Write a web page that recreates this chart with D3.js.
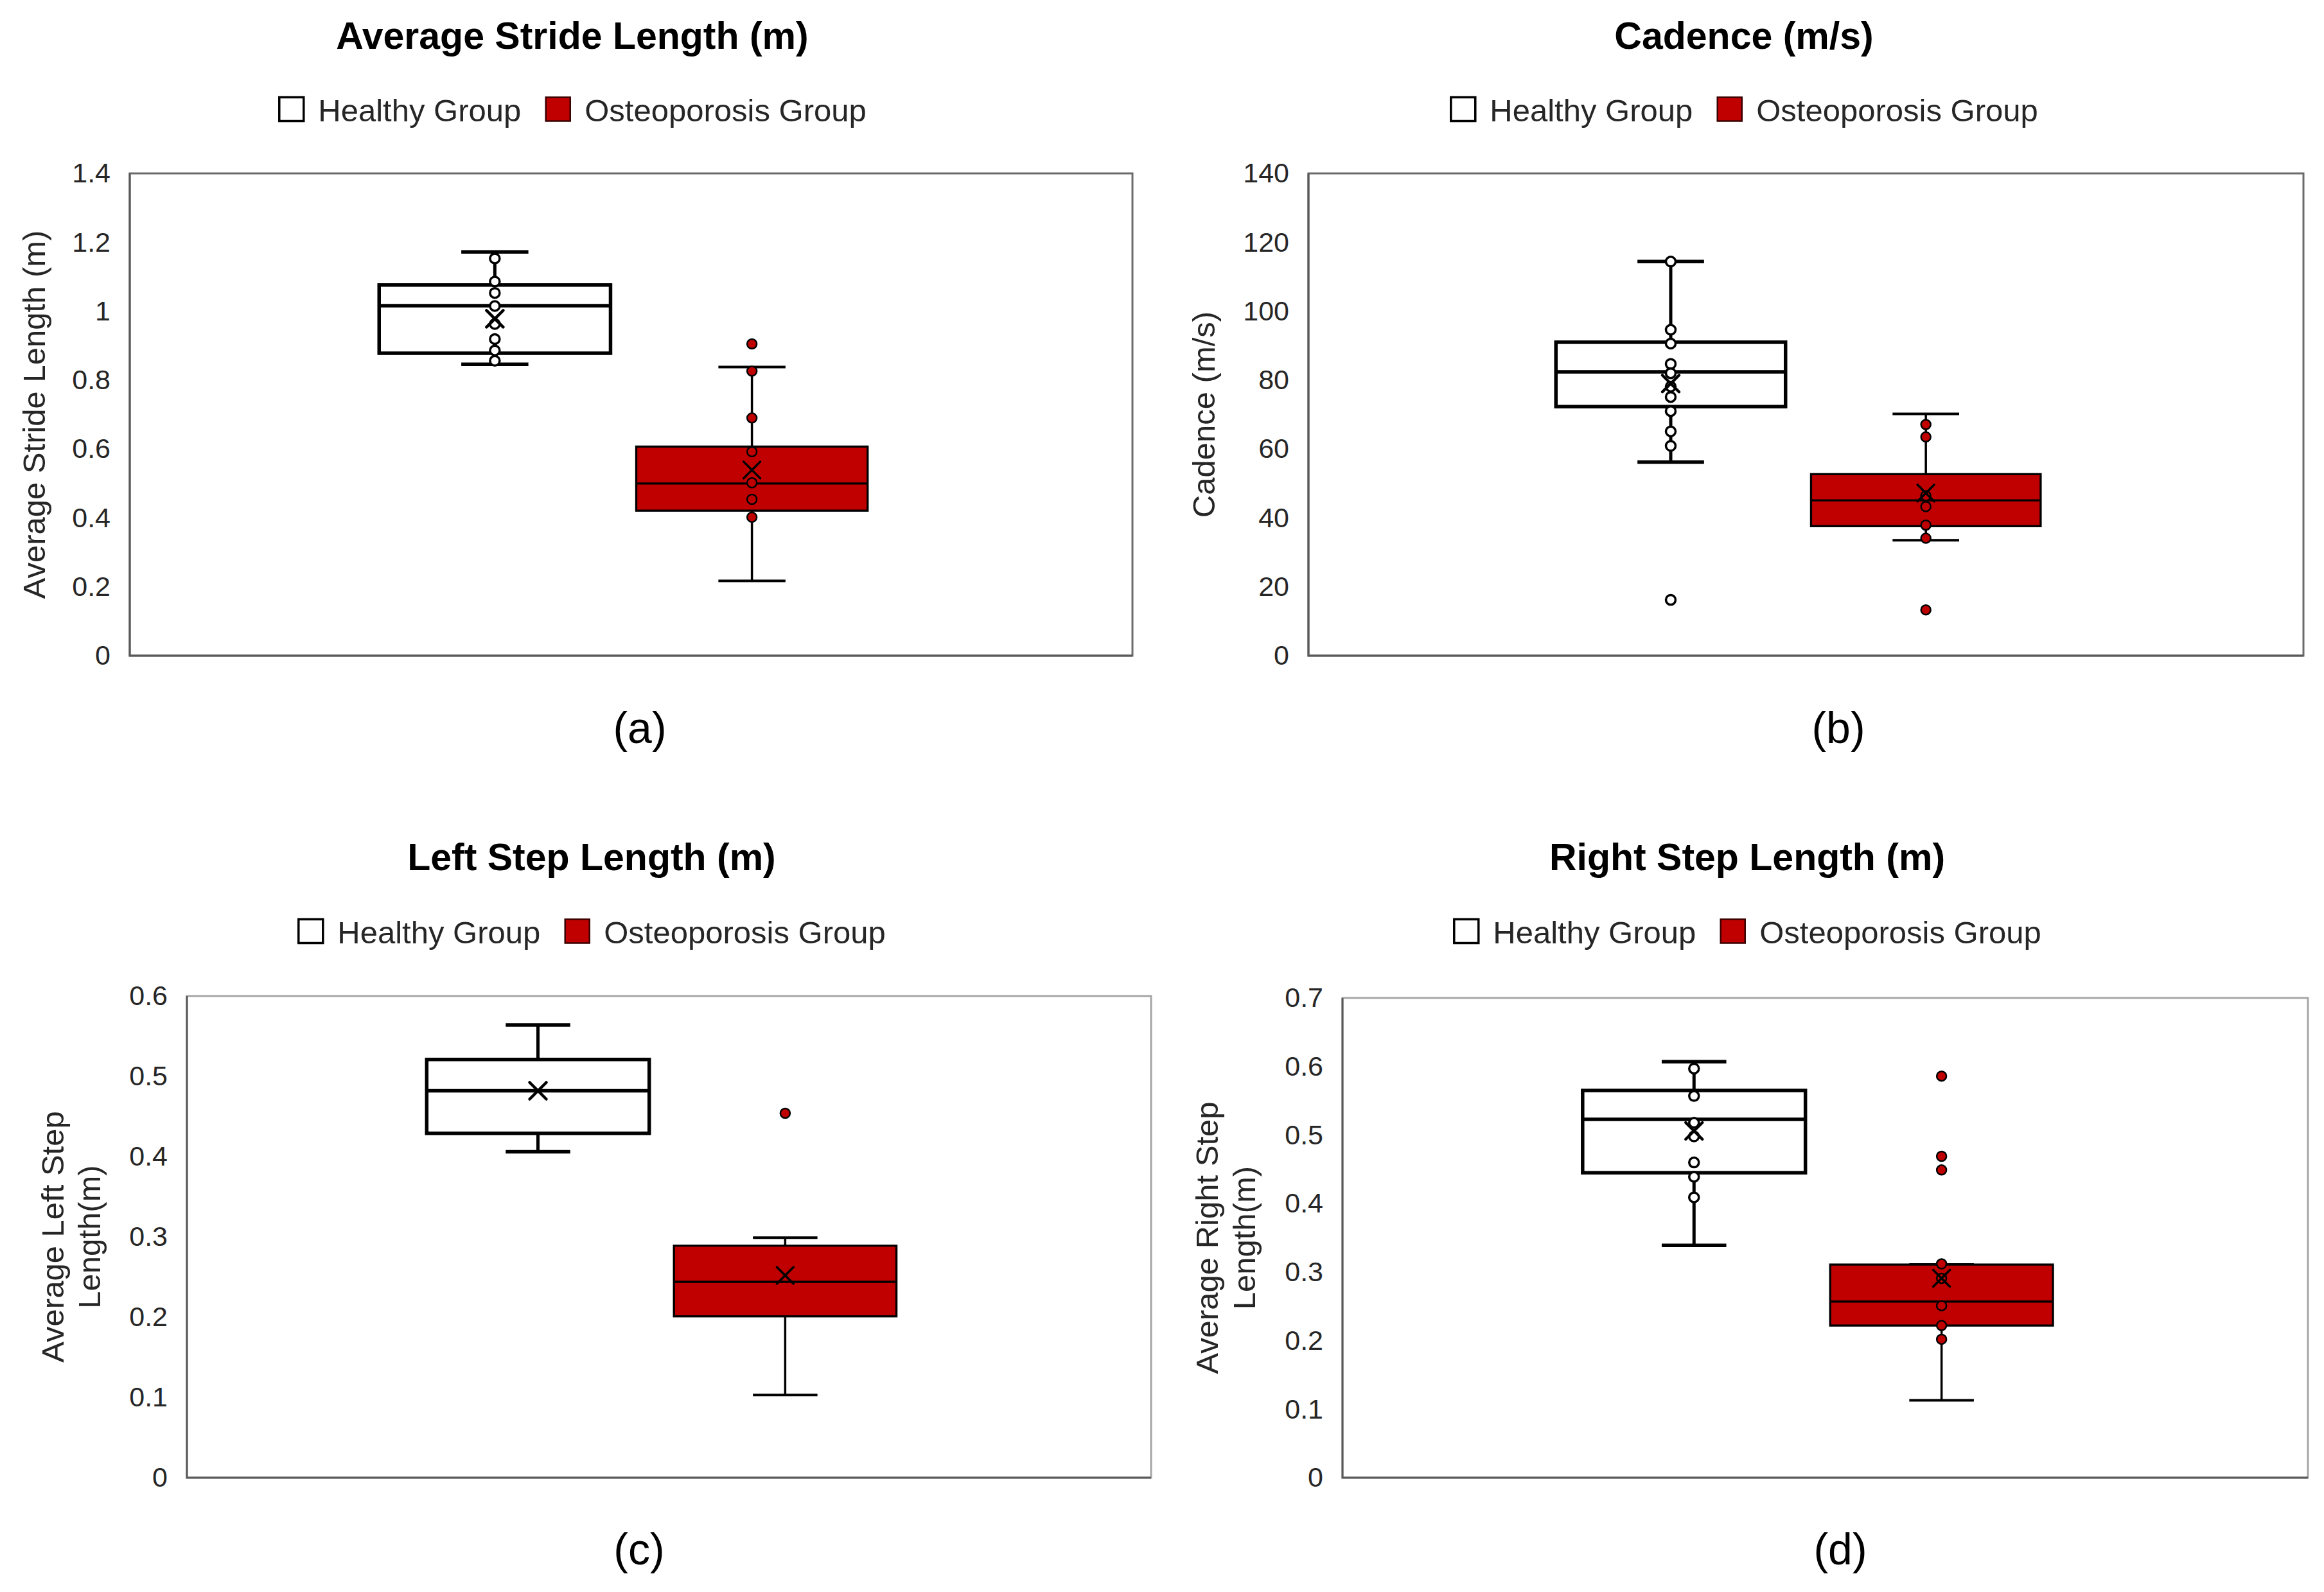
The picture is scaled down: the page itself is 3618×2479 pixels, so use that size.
<!DOCTYPE html>
<html>
<head>
<meta charset="utf-8">
<script src="https://cdn.jsdelivr.net/npm/d3@7"></script>
<style>
  body { margin: 0; background: #fff; }
  svg { display: block; }
</style>
</head>
<body>
<div id="chart"></div>
<script>
// groups shown in every panel
const groups = ["Healthy Group", "Osteoporosis Group"];

const panelTitles = ["Average Stride Length (m)", "Cadence (m/s)", "Left Step Length (m)", "Right Step Length (m)"];
const axisTitles = [["Average Stride Length (m)"], ["Cadence (m/s)"], ["Average Left Step", "Length(m)"], ["Average Right Step", "Length(m)"]];
const subLabels = ["(a)", "(b)", "(c)", "(d)"];

const yMax = [1.4, 140, 0.6, 0.7];
const yTicks = [
    [0, 0.2, 0.4, 0.6, 0.8, 1, 1.2, 1.4],
    [0, 20, 40, 60, 80, 100, 120, 140],
    [0, 0.1, 0.2, 0.3, 0.4, 0.5, 0.6],
    [0, 0.1, 0.2, 0.3, 0.4, 0.5, 0.6, 0.7]
];
const yTickLabels = [
    ["0", "0.2", "0.4", "0.6", "0.8", "1", "1.2", "1.4"],
    ["0", "20", "40", "60", "80", "100", "120", "140"],
    ["0", "0.1", "0.2", "0.3", "0.4", "0.5", "0.6"],
    ["0", "0.1", "0.2", "0.3", "0.4", "0.5", "0.6", "0.7"]
];

// box stats: [lower whisker, Q1, median, Q3, upper whisker]
const strideHealthy = [0.846, 0.878, 1.016, 1.076, 1.172];
const strideOsteo = [0.217, 0.421, 0.500, 0.607, 0.838];
const strideMeans = [0.978, 0.539];
const strideHealthyPoints = [1.153, 1.086, 1.053, 1.015, 0.963, 0.919, 0.886, 0.856];
const strideOsteoPoints = [0.826, 0.690, 0.592, 0.502, 0.454, 0.402, 0.905];

const cadenceHealthy = [56.2, 72.3, 82.4, 91.0, 114.4];
const cadenceOsteo = [33.5, 37.6, 45.1, 52.7, 70.2];
const cadenceMeans = [79.0, 47.2];
const cadenceHealthyPoints = [114.4, 94.6, 90.6, 84.7, 82.0, 78.1, 75.1, 71.0, 65.1, 60.9, 16.2];
const cadenceOsteoPoints = [67.1, 63.5, 46.4, 43.3, 37.9, 34.1, 13.3];

const leftHealthy = [0.406, 0.429, 0.482, 0.521, 0.564];
const leftOsteo = [0.103, 0.201, 0.244, 0.289, 0.299];
const leftMeans = [0.482, 0.252];
const leftHealthyPoints = [];
const leftOsteoPoints = [0.454];

const rightHealthy = [0.339, 0.445, 0.523, 0.565, 0.607];
const rightOsteo = [0.113, 0.222, 0.257, 0.311, 0.311];
const rightMeans = [0.506, 0.291];
const rightHealthyPoints = [0.597, 0.557, 0.518, 0.498, 0.460, 0.439, 0.409];
const rightOsteoPoints = [0.312, 0.291, 0.251, 0.222, 0.202, 0.586, 0.469, 0.449];

const boxStats = [[strideHealthy, strideOsteo], [cadenceHealthy, cadenceOsteo], [leftHealthy, leftOsteo], [rightHealthy, rightOsteo]];
const means = [strideMeans, cadenceMeans, leftMeans, rightMeans];
const points = [
    [strideHealthyPoints, strideOsteoPoints],
    [cadenceHealthyPoints, cadenceOsteoPoints],
    [leftHealthyPoints, leftOsteoPoints],
    [rightHealthyPoints, rightOsteoPoints]
];

// layout of the four panels (pixels)
const layout = [
    { plot: [202, 270, 1763, 1021], cx: 891, titleY: 76, legendY: 189, ylabX: [70], sub: [996, 1157], frame: "#6b6b6b" },
    { plot: [2037, 270, 3586, 1021], cx: 2715, titleY: 76, legendY: 189, ylabX: [1891], sub: [2862, 1157], frame: "#6b6b6b" },
    { plot: [291, 1551, 1792, 2301], cx: 921, titleY: 1355, legendY: 1469, ylabX: [99, 156], sub: [995, 2436], frame: "#a6a6a6" },
    { plot: [2090, 1554, 3593, 2301], cx: 2720, titleY: 1355, legendY: 1469, ylabX: [1896, 1954], sub: [2865, 2436], frame: "#a6a6a6" }
];

const RED = "#C00000";
const FONT = "'Liberation Sans', Arial, sans-serif";
const fills = [ "#ffffff", RED ];
const boxStroke = [5.5, 3.3];
const whiskerStroke = [5, 3.5];

const svg = d3.select("#chart").append("svg")
    .attr("width", 3618)
    .attr("height", 2479);

svg.append("rect").attr("width", 3618).attr("height", 2479).attr("fill", "#fff");

layout.forEach((L, p) => {
    const [left, top, right, bottom] = L.plot;
    const g = svg.append("g");

    const x = d3.scaleBand()
        .domain(groups)
        .range([left, right])
        .paddingInner(0.1)
        .paddingOuter(1.0)
        .align(0.485);

    const y = d3.scaleLinear()
        .domain([0, yMax[p]])
        .range([bottom, top]);

    // plot frame
    g.append("rect")
        .attr("x", left).attr("y", top)
        .attr("width", right - left).attr("height", bottom - top)
        .attr("fill", "none")
        .attr("stroke", L.frame)
        .attr("stroke-width", 3);
    g.append("path")
        .attr("d", `M${left},${top}V${bottom}H${right}`)
        .attr("fill", "none")
        .attr("stroke", "#595959")
        .attr("stroke-width", 3);

    // y axis
    const yAxis = d3.axisLeft(y)
        .tickValues(yTicks[p])
        .tickFormat((d, i) => yTickLabels[p][i])
        .tickSize(0)
        .tickPadding(30);
    const ag = g.append("g")
        .attr("transform", `translate(${left},0)`)
        .call(yAxis);
    ag.select(".domain").remove();
    ag.selectAll("text")
        .attr("font-family", FONT)
        .attr("font-size", 43)
        .attr("fill", "#262626");

    // axis title
    const midY = (top + bottom) / 2;
    axisTitles[p].forEach((line, i) => {
        g.append("text")
            .attr("transform", `translate(${L.ylabX[i]},${midY}) rotate(-90)`)
            .attr("text-anchor", "middle")
            .attr("font-family", FONT)
            .attr("font-size", 49)
            .attr("fill", "#262626")
            .text(line);
    });

    // chart title
    g.append("text")
        .attr("x", L.cx).attr("y", L.titleY)
        .attr("text-anchor", "middle")
        .attr("font-family", FONT)
        .attr("font-weight", "bold")
        .attr("font-size", 59)
        .attr("fill", "#000")
        .text(panelTitles[p]);

    // legend
    const lg = g.append("g");
    let lx = 0;
    groups.forEach((name, i) => {
        lg.append("rect")
            .attr("x", lx + 1.5).attr("y", L.legendY - 37.5)
            .attr("width", 38).attr("height", 37)
            .attr("fill", fills[i])
            .attr("stroke", i === 0 ? "#000" : "#3a0000")
            .attr("stroke-width", i === 0 ? 3.5 : 2.5);
        const t = lg.append("text")
            .attr("x", lx + 62).attr("y", L.legendY)
            .attr("font-family", FONT)
            .attr("font-size", 49)
            .attr("fill", "#262626")
            .text(name);
        lx += 62 + t.node().getComputedTextLength() + 37;
    });
    const legendWidth = lx - 37;
    lg.attr("transform", `translate(${L.cx - legendWidth / 2},0)`);

    // boxes
    groups.forEach((name, i) => {
        const [lo, q1, med, q3, hi] = boxStats[p][i];
        const bx = x(name);
        const bw = x.bandwidth();
        const cx = bx + bw / 2;
        const cap = bw * 0.29;
        const sw = whiskerStroke[i];

        g.append("line")
            .attr("x1", cx).attr("x2", cx)
            .attr("y1", y(q3)).attr("y2", y(hi))
            .attr("stroke", "#000").attr("stroke-width", sw);
        g.append("line")
            .attr("x1", cx).attr("x2", cx)
            .attr("y1", y(q1)).attr("y2", y(lo))
            .attr("stroke", "#000").attr("stroke-width", sw);
        [lo, hi].forEach(v => {
            g.append("line")
                .attr("x1", cx - cap / 2).attr("x2", cx + cap / 2)
                .attr("y1", y(v)).attr("y2", y(v))
                .attr("stroke", "#000").attr("stroke-width", sw + 0.5);
        });

        g.append("rect")
            .attr("x", bx).attr("y", y(q3))
            .attr("width", bw).attr("height", y(q1) - y(q3))
            .attr("fill", fills[i])
            .attr("stroke", "#000")
            .attr("stroke-width", boxStroke[i]);
        g.append("line")
            .attr("x1", bx).attr("x2", bx + bw)
            .attr("y1", y(med)).attr("y2", y(med))
            .attr("stroke", "#000")
            .attr("stroke-width", boxStroke[i]);

        // inner points and outliers
        g.selectAll(null)
            .data(points[p][i])
            .join("circle")
            .attr("cx", cx)
            .attr("cy", d => y(d))
            .attr("r", 7.5)
            .attr("fill", fills[i])
            .attr("stroke", "#000")
            .attr("stroke-width", i === 0 ? 3.5 : 2.5);

        // mean marker
        const my = y(means[p][i]);
        const s = 13;
        g.append("path")
            .attr("d", `M${cx - s},${my - s}L${cx + s},${my + s}M${cx - s},${my + s}L${cx + s},${my - s}`)
            .attr("stroke", "#000")
            .attr("stroke-width", i === 0 ? 4.5 : 3.5)
            .attr("stroke-linecap", "round");
    });

    // sub label
    g.append("text")
        .attr("x", L.sub[0]).attr("y", L.sub[1])
        .attr("text-anchor", "middle")
        .attr("font-family", FONT)
        .attr("font-size", 68)
        .attr("fill", "#000")
        .text(subLabels[p]);
});
</script>
</body>
</html>
